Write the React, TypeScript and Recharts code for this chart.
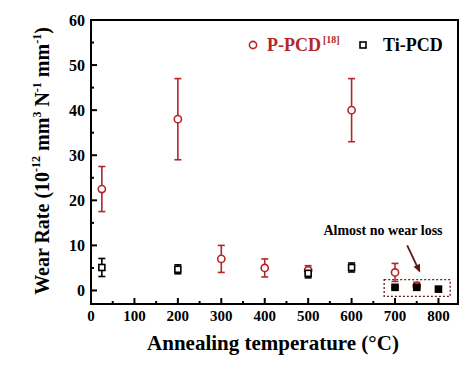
import { ScatterChart, Scatter, XAxis, YAxis, ErrorBar, ReferenceArea, ReferenceLine, ReferenceDot } from 'recharts';

// P-PCD [18] (red circles)
const pTemps = [25, 200, 300, 400, 500, 600, 700, 750];
const pRates = [22.5, 38, 7, 5, 4.5, 40, 4, 1];
const pErrs = [5, 9, 3, 2, 1, 7, 2, 0.8];

// Ti-PCD (black squares)
const tiTemps = [25, 200, 500, 600, 700, 750, 800];
const tiRates = [5.1, 4.7, 3.8, 5.1, 0.7, 0.7, 0.3];
const tiErrs = [2, 1, 1, 1, 0.2, 0.2, 0.1];

const xTicks = [0, 50, 100, 150, 200, 250, 300, 350, 400, 450, 500, 550, 600, 650, 700, 750, 800];
const yTicks = [0, 5, 10, 15, 20, 25, 30, 35, 40, 45, 50, 55, 60];

const pData = pTemps.map((t, i) => ({ t, v: pRates[i], err: pErrs[i] }));
const tiData = tiTemps.map((t, i) => ({ t, v: tiRates[i], err: tiErrs[i] }));

const RED = '#b3262b';
const FONT = '"Liberation Serif", "Times New Roman", serif';

const XTick = (props: any) => {
  const { x, y, payload } = props;
  const major = payload.value % 100 === 0;
  return (
    <g>
      <line x1={x} x2={x} y1={y} y2={y - (major ? 6 : 3)} stroke="#000" strokeWidth={2} />
      {major && (
        <text x={x} y={y + 17} textAnchor="middle" fontFamily={FONT} fontWeight="bold" fontSize={15} fill="#000">
          {payload.value}
        </text>
      )}
    </g>
  );
};

const YTick = (props: any) => {
  const { x, y, payload } = props;
  const major = payload.value % 10 === 0;
  return (
    <g>
      <line x1={x} x2={x + (major ? 6 : 3)} y1={y} y2={y} stroke="#000" strokeWidth={2} />
      {major && (
        <text x={x - 6} y={y + 6} textAnchor="end" fontFamily={FONT} fontWeight="bold" fontSize={16} fill="#000">
          {payload.value}
        </text>
      )}
    </g>
  );
};

const Circle = (props: any) => {
  const { cx, cy } = props;
  return <circle cx={cx} cy={cy} r={3.6} fill="#fff" stroke={RED} strokeWidth={1.6} />;
};

const Square = (props: any) => {
  const { cx, cy, payload } = props;
  const filled = payload.v < 1;
  return (
    <rect x={cx - 3} y={cy - 3} width={6} height={6} fill={filled ? '#000' : '#fff'} stroke="#000" strokeWidth={1.6} />
  );
};

const ArrowHead = (props: any) => {
  const { cx, cy } = props;
  // arrow direction roughly down-right
  const ang = Math.atan2(27, 13);
  const len = 8;
  const w = 3.5;
  const bx = cx - len * Math.cos(ang);
  const by = cy - len * Math.sin(ang);
  const px = -Math.sin(ang) * w;
  const py = Math.cos(ang) * w;
  return <polygon points={`${cx},${cy} ${bx + px},${by + py} ${bx - px},${by - py}`} fill="#5a1a1a" />;
};

export default function App() {
  return (
    <div style={{ position: 'absolute', left: 0, top: 0, width: 474, height: 370, background: '#fff' }}>
      <ScatterChart width={474} height={370} margin={{ top: 20, right: 16, bottom: 0, left: 0 }}>
        <XAxis
          type="number"
          dataKey="t"
          domain={[0, 845]}
          ticks={xTicks}
          tick={<XTick />}
          tickSize={0}
          tickMargin={0}
          interval={0}
          height={66}
          stroke="#000"
          strokeWidth={2}
          allowDataOverflow
        />
        <YAxis
          type="number"
          dataKey="v"
          domain={[-3, 60]}
          ticks={yTicks}
          tick={<YTick />}
          tickSize={0}
          tickMargin={0}
          interval={0}
          width={91}
          stroke="#000"
          strokeWidth={2}
          allowDataOverflow
        />
        <ReferenceArea x1={0} x2={845} y1={-3} y2={60} fill="none" stroke="#000" strokeWidth={2} ifOverflow="visible" />
        <ReferenceArea x1={675} x2={827} y1={-1.3} y2={2.4} fill="none" stroke="#6b1e1e" strokeWidth={1.3} strokeDasharray="2 2" />
        <ReferenceLine segment={[{ x: 728, y: 10 }, { x: 756, y: 4.3 }]} stroke="#5a1a1a" strokeWidth={1.8} />
        <ReferenceDot x={758} y={4} r={0} shape={<ArrowHead />} />
        <Scatter name="P-PCD" data={pData} shape={<Circle />} isAnimationActive={false}>
          <ErrorBar dataKey="err" direction="y" width={3.5} stroke={RED} strokeWidth={1.6} />
        </Scatter>
        <Scatter name="Ti-PCD" data={tiData} shape={<Square />} isAnimationActive={false}>
          <ErrorBar dataKey="err" direction="y" width={3.5} stroke="#000" strokeWidth={1.6} />
        </Scatter>
      </ScatterChart>

      {/* legend, annotation and axis titles */}
      <svg style={{ position: 'absolute', left: 0, top: 0, pointerEvents: 'none' }} width={474} height={370}>
        <circle cx={253} cy={45} r={3.6} fill="#fff" stroke={RED} strokeWidth={1.6} />
        <text x={267} y={51} fontFamily={FONT} fontWeight="bold" fontSize={18} fill={RED}>
          P-PCD
          <tspan dx={2} dy={-8} fontSize={10}>[18]</tspan>
        </text>
        <rect x={360} y={42} width={6} height={6} fill="#fff" stroke="#000" strokeWidth={1.6} />
        <text x={383} y={51} fontFamily={FONT} fontWeight="bold" fontSize={18} fill="#000">Ti-PCD</text>

        <text x={383} y={235} textAnchor="middle" fontFamily={FONT} fontWeight="bold" fontSize={14} fill="#000">
          Almost no wear loss
        </text>

        <text x={273} y={350} textAnchor="middle" fontFamily={FONT} fontWeight="bold" fontSize={21} fill="#000">
          Annealing temperature (°C)
        </text>

        <text transform="translate(49,161) rotate(-90)" textAnchor="middle" fontFamily={FONT} fontWeight="bold" fontSize={20} fill="#000">
          Wear Rate (10
          <tspan dy={-9} fontSize={12}>-12</tspan>
          <tspan dy={9}>{' '}mm</tspan>
          <tspan dy={-8} fontSize={12}>3</tspan>
          <tspan dy={8}>{' '}N</tspan>
          <tspan dy={-8} fontSize={12}>-1</tspan>
          <tspan dy={8}>{' '}mm</tspan>
          <tspan dy={-8} fontSize={12}>-1</tspan>
          <tspan dy={8}>)</tspan>
        </text>
      </svg>
    </div>
  );
}
